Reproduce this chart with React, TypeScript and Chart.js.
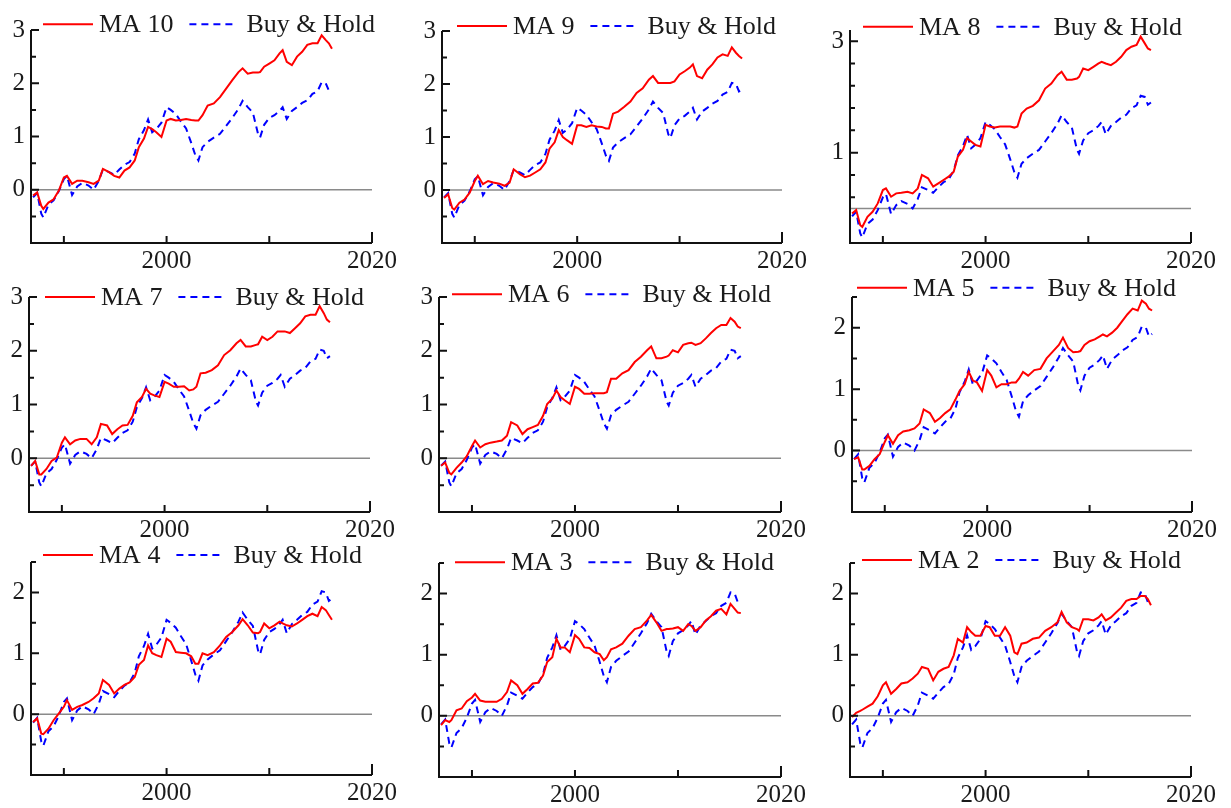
import React, { useEffect, useRef } from 'react';
import { Chart, registerables } from 'chart.js';
Chart.register(...registerables);

const FONT = '"Liberation Serif", "Times New Roman", serif';

// ---- data ----
const dates = [
  1987.0, 1987.4, 1987.8, 1988.0, 1988.5, 1989.0, 1989.5, 1990.0,
  1990.3, 1990.8, 1991.3, 1991.8, 1992.4, 1992.9, 1993.4, 1993.8,
  1994.4, 1994.9, 1995.4, 1995.9, 1996.4, 1996.9, 1997.3, 1997.8,
  1998.2, 1998.6, 1999.0, 1999.5, 2000.0, 2000.4, 2000.9, 2001.4,
  2001.9, 2002.4, 2002.8, 2003.1, 2003.5, 2004.0, 2004.6, 2005.2,
  2005.8, 2006.4, 2007.0, 2007.4, 2007.9, 2008.4, 2008.9, 2009.1,
  2009.5, 2010.0, 2010.5, 2011.0, 2011.3, 2011.7, 2012.2, 2012.7,
  2013.2, 2013.7, 2014.2, 2014.7, 2015.1, 2015.5, 2015.8, 2016.1,
];

const buyHold = [
  -0.14, -0.06, -0.45, -0.52, -0.28, -0.2, -0.03, 0.2,
  0.26, -0.1, 0.06, 0.13, 0.08, 0.0, 0.17, 0.38,
  0.33, 0.28, 0.38, 0.47, 0.52, 0.68, 0.95, 1.12,
  1.32, 1.08, 1.14, 1.26, 1.55, 1.5, 1.42, 1.28,
  1.15, 0.88, 0.65, 0.55, 0.8, 0.9, 0.98, 1.05,
  1.2, 1.35, 1.52, 1.67, 1.55, 1.45, 1.05, 0.98,
  1.22, 1.35, 1.4, 1.48, 1.55, 1.33, 1.48, 1.55,
  1.63, 1.68, 1.8, 1.85, 2.02, 2.0, 1.86, 1.9,
];

const ma10 = [
  -0.11, -0.05, -0.3, -0.36, -0.24, -0.18, -0.02, 0.23,
  0.26, 0.11, 0.17, 0.17, 0.14, 0.11, 0.17, 0.39,
  0.33, 0.26, 0.23, 0.36, 0.42, 0.55, 0.8, 0.96,
  1.18, 1.14, 1.08, 0.99, 1.3, 1.33, 1.3, 1.31,
  1.33, 1.31, 1.3, 1.3, 1.4, 1.58, 1.62, 1.74,
  1.9, 2.06, 2.21, 2.28, 2.18, 2.2, 2.2, 2.21,
  2.31, 2.37, 2.43, 2.56, 2.62, 2.4, 2.34, 2.5,
  2.59, 2.72, 2.75, 2.75, 2.9, 2.81, 2.75, 2.65,
];

const ma9 = [
  -0.15, -0.08, -0.34, -0.37, -0.24, -0.18, -0.05, 0.17,
  0.27, 0.11, 0.17, 0.14, 0.12, 0.08, 0.14, 0.39,
  0.3, 0.24, 0.27, 0.33, 0.39, 0.52, 0.78, 0.9,
  1.13, 1.0, 0.94, 0.87, 1.22, 1.22, 1.19, 1.22,
  1.2, 1.19, 1.16, 1.16, 1.44, 1.48, 1.57, 1.67,
  1.83, 1.92, 2.08, 2.15, 2.02, 2.02, 2.02, 2.02,
  2.05, 2.18, 2.24, 2.31, 2.37, 2.15, 2.11, 2.27,
  2.37, 2.5, 2.56, 2.53, 2.69, 2.59, 2.53, 2.48,
];

const ma8 = [
  -0.09, -0.03, -0.3, -0.33, -0.15, -0.06, 0.09, 0.33,
  0.36, 0.21, 0.27, 0.28, 0.3, 0.27, 0.36, 0.6,
  0.54, 0.39, 0.45, 0.51, 0.57, 0.66, 0.93, 1.05,
  1.26, 1.2, 1.14, 1.11, 1.5, 1.47, 1.45, 1.47,
  1.47, 1.47, 1.45, 1.47, 1.7, 1.79, 1.84, 1.94,
  2.15, 2.24, 2.39, 2.45, 2.31, 2.31, 2.33, 2.36,
  2.51, 2.48, 2.54, 2.6, 2.63, 2.6, 2.57, 2.63,
  2.72, 2.84, 2.9, 2.93, 3.08, 2.96, 2.87, 2.84,
];

const ma7 = [
  -0.14, -0.05, -0.3, -0.3, -0.2, -0.05, 0.01, 0.29,
  0.39, 0.26, 0.33, 0.36, 0.36, 0.26, 0.39, 0.64,
  0.61, 0.45, 0.54, 0.61, 0.62, 0.79, 1.04, 1.14,
  1.29, 1.2, 1.17, 1.14, 1.42, 1.39, 1.33, 1.33,
  1.34, 1.26, 1.28, 1.33, 1.58, 1.59, 1.64, 1.73,
  1.92, 2.01, 2.14, 2.2, 2.08, 2.08, 2.11, 2.12,
  2.26, 2.2, 2.26, 2.36, 2.36, 2.36, 2.33, 2.42,
  2.51, 2.64, 2.67, 2.67, 2.83, 2.7, 2.58, 2.53,
];

const ma6 = [
  -0.14, -0.08, -0.27, -0.3, -0.18, -0.08, 0.04, 0.23,
  0.33, 0.2, 0.26, 0.29, 0.31, 0.33, 0.42, 0.67,
  0.61, 0.45, 0.54, 0.58, 0.62, 0.79, 1.01, 1.11,
  1.26, 1.14, 1.08, 1.01, 1.33, 1.29, 1.2, 1.2,
  1.21, 1.21, 1.21, 1.23, 1.48, 1.48, 1.58, 1.64,
  1.79, 1.89, 2.01, 2.08, 1.86, 1.86, 1.89, 1.91,
  2.01, 1.97, 2.11, 2.14, 2.15, 2.11, 2.14, 2.23,
  2.33, 2.42, 2.48, 2.48, 2.61, 2.54, 2.45, 2.42,
];

const ma5 = [
  -0.14, -0.11, -0.31, -0.31, -0.25, -0.14, -0.06, 0.14,
  0.25, 0.11, 0.25, 0.31, 0.33, 0.36, 0.44, 0.67,
  0.61, 0.47, 0.53, 0.61, 0.67, 0.83, 0.97, 1.08,
  1.28, 1.14, 1.11, 0.97, 1.31, 1.22, 1.03, 1.08,
  1.08, 1.11, 1.11, 1.17, 1.28, 1.22, 1.31, 1.33,
  1.5, 1.61, 1.72, 1.84, 1.67, 1.6, 1.61, 1.62,
  1.72, 1.78, 1.81, 1.86, 1.89, 1.86, 1.92, 2.0,
  2.11, 2.22, 2.31, 2.28, 2.44, 2.39, 2.31, 2.28,
];

const ma4 = [
  -0.13, -0.07, -0.32, -0.33, -0.24, -0.1, 0.01, 0.12,
  0.23, 0.07, 0.12, 0.15, 0.2, 0.26, 0.34, 0.56,
  0.48, 0.34, 0.42, 0.48, 0.52, 0.61, 0.81, 0.89,
  1.13, 1.0, 0.97, 0.94, 1.24, 1.19, 1.02, 1.01,
  1.0, 0.95, 0.83, 0.83, 1.0, 0.97, 1.02, 1.13,
  1.27, 1.35, 1.46, 1.56, 1.46, 1.34, 1.33, 1.35,
  1.49, 1.41, 1.46, 1.52, 1.49, 1.46, 1.44, 1.49,
  1.55, 1.61, 1.65, 1.61, 1.76, 1.71, 1.63, 1.55,
];

const ma3 = [
  -0.15, -0.07, -0.1, -0.07, 0.09, 0.12, 0.24, 0.3,
  0.36, 0.25, 0.23, 0.23, 0.23, 0.28, 0.39, 0.58,
  0.5, 0.36, 0.44, 0.53, 0.54, 0.66, 0.88, 0.96,
  1.26, 1.12, 1.12, 1.04, 1.32, 1.26, 1.12, 1.11,
  1.04, 1.01, 0.91, 0.96, 1.09, 1.12, 1.18, 1.31,
  1.42, 1.45, 1.56, 1.65, 1.53, 1.39, 1.42, 1.42,
  1.43, 1.45, 1.39, 1.5, 1.47, 1.39, 1.45, 1.56,
  1.63, 1.72, 1.75, 1.66, 1.83, 1.75, 1.69, 1.68,
];

const ma2 = [
  -0.02, 0.05, 0.08, 0.1, 0.15, 0.2, 0.32, 0.5,
  0.55, 0.36, 0.44, 0.53, 0.55, 0.61, 0.69, 0.8,
  0.77, 0.58, 0.72, 0.77, 0.8, 0.99, 1.26, 1.2,
  1.45, 1.37, 1.31, 1.31, 1.47, 1.45, 1.31, 1.31,
  1.45, 1.31, 1.04, 1.01, 1.18, 1.2, 1.26, 1.28,
  1.39, 1.45, 1.53, 1.7, 1.53, 1.45, 1.42, 1.39,
  1.58, 1.58, 1.56, 1.61, 1.66, 1.56, 1.61, 1.69,
  1.77, 1.88, 1.91, 1.91, 1.96, 1.96, 1.91, 1.81,
];

// ---- tick values / labels ----
const yTicksWide = [-0.5, 0, 0.5, 1, 1.5, 2, 2.5, 3];
const yLabelsWide = [0, 1, 2, 3];
const yTicksNarrow = [-0.5, 0, 0.5, 1, 1.5, 2, 2.5];
const yLabelsNarrow = [0, 1, 2];
const yTicksMA8 = [0.2, 0.6, 1, 1.4, 1.8, 2.2, 2.6, 3];
const yLabelsMA8 = [1, 3];
const xTicks = [1990, 2000, 2010, 2020];
const xLabels = [2000, 2020];
const legendOther = 'Buy & Hold';

type PanelCfg = {
  name: string;
  values: number[];
  yMin: number;
  yMax: number;
  yTicks: number[];
  yLabels: number[];
  box: [number, number, number, number];
  legend: [number, number];
};

const panels: PanelCfg[] = [
  { name: 'MA 10', values: ma10, yMin: -1, yMax: 3, yTicks: yTicksWide, yLabels: yLabelsWide, box: [31, 30, 341, 213], legend: [12, -5.7] },
  { name: 'MA 9', values: ma9, yMin: -1, yMax: 3, yTicks: yTicksWide, yLabels: yLabelsWide, box: [442, 31, 340, 212], legend: [15, -5] },
  { name: 'MA 8', values: ma8, yMin: -0.62, yMax: 3.2, yTicks: yTicksMA8, yLabels: yLabelsMA8, box: [850, 30, 341, 213], legend: [13, -3.3] },
  { name: 'MA 7', values: ma7, yMin: -1, yMax: 3, yTicks: yTicksWide, yLabels: yLabelsWide, box: [29, 297, 341, 215], legend: [16, 0] },
  { name: 'MA 6', values: ma6, yMin: -1, yMax: 3, yTicks: yTicksWide, yLabels: yLabelsWide, box: [439, 297, 342, 215], legend: [13, -2.7] },
  { name: 'MA 5', values: ma5, yMin: -1, yMax: 2.5, yTicks: yTicksNarrow, yLabels: yLabelsNarrow, box: [852, 297, 340, 215], legend: [5, -9.3] },
  { name: 'MA 4', values: ma4, yMin: -1, yMax: 2.5, yTicks: yTicksNarrow, yLabels: yLabelsNarrow, box: [31, 562, 341, 213], legend: [12, -7] },
  { name: 'MA 3', values: ma3, yMin: -1, yMax: 2.5, yTicks: yTicksNarrow, yLabels: yLabelsNarrow, box: [439, 563, 342, 214], legend: [16, -0.7] },
  { name: 'MA 2', values: ma2, yMin: -1, yMax: 2.5, yTicks: yTicksNarrow, yLabels: yLabelsNarrow, box: [850, 563, 341, 214], legend: [12, -3] },
];

const RED = '#ff0000';
const BLUE = '#0000ff';
const INK = '#1a1a1a';
const PAD = 40;

function Panel({ p }: { p: PanelCfg }) {
  const ref = useRef<HTMLCanvasElement | null>(null);
  const [L, T, W, H] = p.box;
  const cw = W + PAD * 2;
  const ch = H + PAD + 35;

  useEffect(() => {
    if (!ref.current) return;
    const axesPlugin = {
      id: 'axesPlugin',
      beforeDatasetsDraw(chart: any) {
        const { ctx, chartArea: a, scales } = chart;
        const y0 = scales.y.getPixelForValue(0);
        ctx.save();
        ctx.strokeStyle = '#8a8a8a';
        ctx.lineWidth = 1.5;
        ctx.beginPath();
        ctx.moveTo(a.left, y0);
        ctx.lineTo(a.right, y0);
        ctx.stroke();
        ctx.restore();
      },
      afterDraw(chart: any) {
        const { ctx, chartArea: a, scales } = chart;
        ctx.save();
        ctx.strokeStyle = '#111';
        ctx.lineWidth = 2;
        ctx.beginPath();
        ctx.moveTo(a.left, a.top);
        ctx.lineTo(a.left, a.bottom);
        ctx.lineTo(a.right, a.bottom);
        ctx.stroke();
        ctx.beginPath();
        p.yTicks.forEach((t) => {
          const py = scales.y.getPixelForValue(t);
          const len = p.yLabels.includes(t) ? 8 : 5;
          ctx.moveTo(a.left, py);
          ctx.lineTo(a.left + len, py);
        });
        xTicks.forEach((t) => {
          const px = scales.x.getPixelForValue(t);
          const len = t === 2020 ? 11 : 7;
          ctx.moveTo(px, a.bottom);
          ctx.lineTo(px, a.bottom - len);
        });
        ctx.stroke();
        ctx.restore();

        // legend
        const x0 = a.left + p.legend[0];
        const yc = a.top + p.legend[1];
        ctx.save();
        ctx.font = `26px ${FONT}`;
        ctx.textBaseline = 'middle';
        ctx.textAlign = 'left';
        ctx.fillStyle = INK;
        ctx.lineWidth = 2;
        ctx.strokeStyle = RED;
        ctx.beginPath();
        ctx.moveTo(x0, yc);
        ctx.lineTo(x0 + 50, yc);
        ctx.stroke();
        let x = x0 + 56;
        ctx.fillText(p.name, x, yc + 1);
        x += ctx.measureText(p.name).width + 16;
        ctx.strokeStyle = BLUE;
        ctx.setLineDash([7, 5]);
        ctx.beginPath();
        ctx.moveTo(x, yc);
        ctx.lineTo(x + 45, yc);
        ctx.stroke();
        ctx.setLineDash([]);
        x += 57;
        ctx.fillText(legendOther, x, yc + 1);
        ctx.restore();
      },
    };

    const chart = new Chart(ref.current, {
      type: 'line',
      data: {
        datasets: [
          {
            label: p.name,
            data: dates.map((d, i) => ({ x: d, y: p.values[i] })),
            borderColor: RED,
            borderWidth: 2,
            pointRadius: 0,
            fill: false,
            tension: 0,
          },
          {
            label: legendOther,
            data: dates.map((d, i) => ({ x: d, y: buyHold[i] })),
            borderColor: BLUE,
            borderWidth: 2,
            borderDash: [7, 5],
            pointRadius: 0,
            fill: false,
            tension: 0,
          },
        ],
      },
      options: {
        animation: false,
        responsive: false,
        devicePixelRatio: 1,
        layout: { padding: { left: 6, top: PAD, right: PAD, bottom: 3 } },
        plugins: { legend: { display: false }, tooltip: { enabled: false } },
        scales: {
          x: {
            type: 'linear',
            min: 1986.8,
            max: 2020,
            grid: { display: false, drawTicks: false },
            border: { display: false },
            afterBuildTicks: (s: any) => {
              s.ticks = xTicks.map((v) => ({ value: v }));
            },
            afterFit: (s: any) => {
              s.height = 32;
            },
            ticks: {
              autoSkip: false,
              maxRotation: 0,
              padding: 3,
              color: INK,
              font: { family: FONT, size: 25 },
              callback: (v: any) => (xLabels.includes(Number(v)) ? String(v) : ''),
            },
          },
          y: {
            type: 'linear',
            min: p.yMin,
            max: p.yMax,
            grid: { display: false, drawTicks: false },
            border: { display: false },
            afterBuildTicks: (s: any) => {
              s.ticks = p.yTicks.map((v) => ({ value: v }));
            },
            afterFit: (s: any) => {
              s.width = 34;
            },
            ticks: {
              autoSkip: false,
              padding: 6,
              color: INK,
              font: { family: FONT, size: 25 },
              callback: (v: any) => (p.yLabels.includes(Number(v)) ? String(v) : ''),
            },
          },
        },
      },
      plugins: [axesPlugin],
    } as any);
    return () => chart.destroy();
  }, []);

  return (
    <canvas
      ref={ref}
      width={cw}
      height={ch}
      style={{ position: 'absolute', left: L - PAD, top: T - PAD, width: cw, height: ch }}
    />
  );
}

export default function App() {
  return (
    <div
      style={{
        position: 'absolute',
        left: 0,
        top: 0,
        width: 1231,
        height: 808,
        background: '#ffffff',
        overflow: 'hidden',
      }}
    >
      {panels.map((p) => (
        <Panel key={p.name} p={p} />
      ))}
    </div>
  );
}
